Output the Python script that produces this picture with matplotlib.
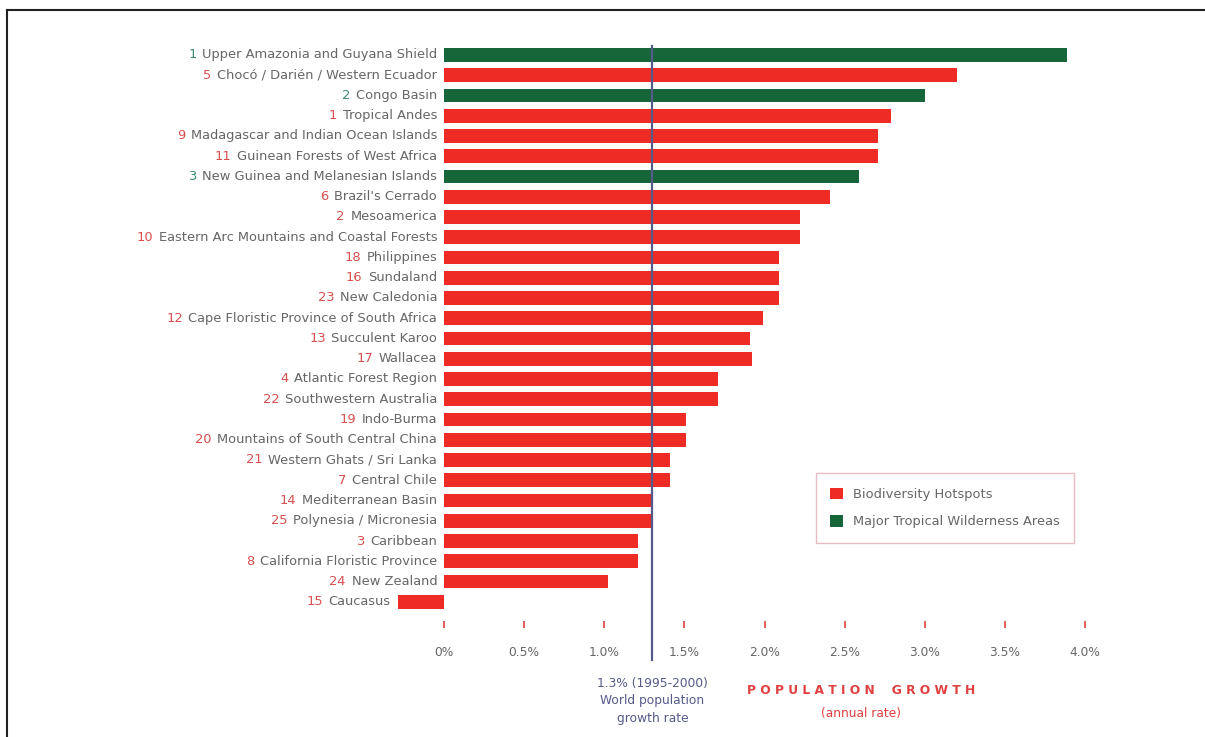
import matplotlib
matplotlib.use("Agg")
import matplotlib.pyplot as plt
from matplotlib.patches import Patch
from matplotlib.lines import Line2D

# Data: population growth rate 1995-2000 (% per year)
names = [
    "Upper Amazonia and Guyana Shield", "Chocó / Darién / Western Ecuador",
    "Congo Basin", "Tropical Andes", "Madagascar and Indian Ocean Islands",
    "Guinean Forests of West Africa", "New Guinea and Melanesian Islands",
    "Brazil's Cerrado", "Mesoamerica", "Eastern Arc Mountains and Coastal Forests",
    "Philippines", "Sundaland", "New Caledonia",
    "Cape Floristic Province of South Africa", "Succulent Karoo", "Wallacea",
    "Atlantic Forest Region", "Southwestern Australia", "Indo-Burma",
    "Mountains of South Central China", "Western Ghats / Sri Lanka",
    "Central Chile", "Mediterranean Basin", "Polynesia / Micronesia",
    "Caribbean", "California Floristic Province", "New Zealand", "Caucasus",
]
numbers = ["1", "5", "2", "1", "9", "11", "3", "6", "2", "10", "18", "16", "23",
           "12", "13", "17", "4", "22", "19", "20", "21", "7", "14", "25",
           "3", "8", "24", "15"]
# True = major tropical wilderness area, False = biodiversity hotspot
wilderness = [True, False, True, False, False, False, True] + [False] * 21
growth = [3.89, 3.20, 3.00, 2.79, 2.71, 2.71, 2.59, 2.41, 2.22, 2.22,
          2.09, 2.09, 2.09, 1.99, 1.91, 1.92, 1.71, 1.71, 1.51, 1.51,
          1.41, 1.41, 1.30, 1.30, 1.21, 1.21, 1.02, -0.29]
world_rate = 1.3
xticks = [0, 0.5, 1.0, 1.5, 2.0, 2.5, 3.0, 3.5, 4.0]
xticklabels = ["0%", "0.5%", "1.0%", "1.5%", "2.0%", "2.5%", "3.0%", "3.5%", "4.0%"]

RED = "#ee2b24"
GREEN = "#17663a"
GRAY = "#666666"
NAVY = "#555a8a"

W, H = 1205, 737
fig = plt.figure(figsize=(W / 100, H / 100), dpi=100)

# axes placed in pixels
left, right, top, bottom = 380, 1101, 42.8, 621
ax = fig.add_axes([left / W, 1 - bottom / H, (right - left) / W, (bottom - top) / H])

n = len(names)
ypos = list(range(n))
colors = [GREEN if w else RED for w in wilderness]
ax.barh(ypos, growth, height=0.68, color=colors, zorder=2)

ax.set_xlim(-0.4, 4.1)
ax.set_ylim(n - 1 + 0.95, -0.6)

# world growth rate line
ax.axvline(world_rate, ymin=-0.068, ymax=0.995, color=NAVY, lw=1.6,
           clip_on=False, zorder=3)

# category labels: coloured number + grey name
for i in range(n):
    x0 = min(0, growth[i])
    t = ax.annotate(names[i], xy=(x0, i), xytext=(-5, 0), textcoords="offset points",
                    ha="right", va="center", fontsize=9.4, color=GRAY)
    ax.annotate(numbers[i], xy=(0, 0.5), xycoords=t, xytext=(-4, 0),
                textcoords="offset points", ha="right", va="center",
                fontsize=9.4, color=("#3c8a6e" if wilderness[i] else "#d94f4f"))

for s in ax.spines.values():
    s.set_visible(False)
ax.set_yticks([])
ax.set_xticks(xticks)
ax.set_xticklabels(xticklabels, fontsize=8.8, color=GRAY)
ax.tick_params(axis="x", length=5, width=1.2, color="#e04040", pad=13)

# axis titles
ax.annotate("1.3% (1995-2000)\nWorld population\ngrowth rate", xy=(world_rate, 0),
            xycoords=ax.get_xaxis_transform(), xytext=(0, -40),
            textcoords="offset points", ha="center", va="top", fontsize=8.8,
            color=NAVY, linespacing=1.45)
ax.annotate("P O P U L A T I O N    G R O W T H", xy=(2.6, 0),
            xycoords=ax.get_xaxis_transform(), xytext=(0, -45),
            textcoords="offset points", ha="center", va="top", fontsize=8.8,
            color="#e04040", fontweight="bold")
ax.annotate("(annual rate)", xy=(2.6, 0), xycoords=ax.get_xaxis_transform(),
            xytext=(0, -62), textcoords="offset points", ha="center", va="top",
            fontsize=8.8, color="#e04040")

# legend
handles = [Patch(facecolor=RED, label="Biodiversity Hotspots"),
           Patch(facecolor=GREEN, label="Major Tropical Wilderness Areas")]
leg = ax.legend(handles=handles, loc="upper left", bbox_to_anchor=(0.595, 0.267),
                fontsize=9.4, frameon=True, fancybox=False, framealpha=1,
                edgecolor="#e8bcc4", handlelength=1.0, handleheight=1.0,
                borderpad=1.1, labelspacing=1.1)
for txt in leg.get_texts():
    txt.set_color(GRAY)

# outer frame (top and left edges visible)
fig.add_artist(Line2D([7 / W, 7 / W], [0, 1 - 10 / H], color="#222222", lw=1.5))
fig.add_artist(Line2D([7 / W, 1], [1 - 10 / H, 1 - 10 / H], color="#222222", lw=1.5))

fig.savefig("out.png", dpi=100, facecolor="white")
